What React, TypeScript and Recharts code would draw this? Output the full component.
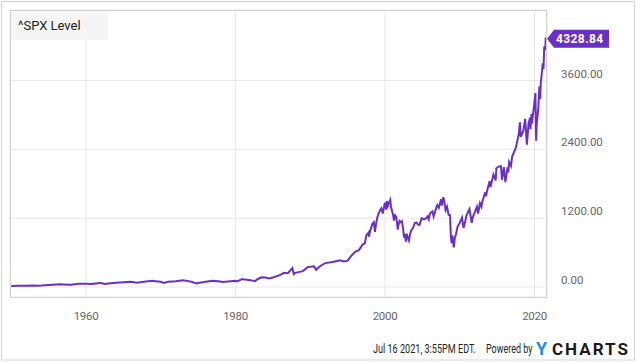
import React from "react";
import { LineChart, Line, XAxis, YAxis, CartesianGrid, ReferenceDot } from "recharts";

const years: number[] = [
  1950.0, 1951.0, 1952.0, 1953.0, 1953.7, 1954.0, 1955.0, 1956.0, 1956.6, 1957.0, 1957.8, 1958.0,
  1959.0, 1960.0, 1960.8, 1961.0, 1961.9, 1962.0, 1962.5, 1963.0, 1964.0, 1965.0, 1966.0, 1966.8,
  1967.0, 1968.0, 1968.9, 1969.0, 1970.0, 1970.4, 1971.0, 1972.0, 1973.0, 1973.9, 1974.0, 1974.8,
  1975.0, 1976.0, 1977.0, 1978.0, 1978.2, 1979.0, 1980.0, 1980.2, 1980.9, 1981.0, 1982.0, 1982.6,
  1983.0, 1983.5, 1984.0, 1984.5, 1985.0, 1986.0, 1986.5, 1987.0, 1987.6, 1987.8, 1988.0, 1989.0,
  1989.7, 1990.0, 1990.5, 1990.8, 1991.0, 1991.5, 1992.0, 1993.0, 1994.0, 1994.5, 1995.0, 1995.5,
  1996.0, 1996.5, 1996.6, 1997.0, 1997.3, 1997.5, 1997.8, 1997.85, 1998.0, 1998.3, 1998.5, 1998.65,
  1998.8, 1999.0, 1999.3, 1999.5, 1999.7, 1999.9, 2000.0, 2000.15, 2000.25, 2000.4, 2000.5, 2000.7,
  2000.8, 2000.95, 2001.1, 2001.2, 2001.35, 2001.5, 2001.6, 2001.7, 2001.8, 2001.95, 2002.1, 2002.25,
  2002.4, 2002.55, 2002.65, 2002.8, 2002.9, 2003.0, 2003.2, 2003.35, 2003.5, 2003.7, 2004.0, 2004.2,
  2004.4, 2004.6, 2004.9, 2005.2, 2005.5, 2005.7, 2005.85, 2006.0, 2006.35, 2006.5, 2006.9, 2007.0,
  2007.2, 2007.5, 2007.6, 2007.8, 2007.95, 2008.1, 2008.3, 2008.5, 2008.7, 2008.8, 2008.9, 2009.0,
  2009.15, 2009.2, 2009.35, 2009.5, 2009.7, 2010.0, 2010.3, 2010.5, 2010.65, 2010.9, 2011.3, 2011.6,
  2011.75, 2012.0, 2012.3, 2012.45, 2012.7, 2012.9, 2013.0, 2013.4, 2013.5, 2013.7, 2014.0, 2014.1,
  2014.5, 2014.8, 2014.9, 2015.2, 2015.5, 2015.65, 2015.9, 2016.1, 2016.4, 2016.5, 2016.6, 2016.85,
  2017.0, 2017.5, 2017.9, 2018.05, 2018.15, 2018.5, 2018.75, 2018.98, 2019.2, 2019.4, 2019.45, 2019.6,
  2019.65, 2020.0, 2020.12, 2020.22, 2020.3, 2020.5, 2020.65, 2020.75, 2020.85, 2021.0, 2021.1, 2021.2,
  2021.3, 2021.4, 2021.45, 2021.5, 2021.54,
];

const levels: number[] = [
  17, 21.7, 24, 26, 23, 25, 36, 44, 48, 46, 40, 41,
  55, 59, 53, 58, 72, 70, 54, 63, 75, 84, 92, 74,
  80, 96, 108, 103, 92, 70, 92, 102, 118, 95, 97, 63,
  70, 90, 107, 95, 87, 96, 108, 98, 140, 136, 120, 102,
  140, 168, 165, 151, 167, 211, 250, 242, 330, 225, 247, 277,
  350, 353, 360, 300, 330, 380, 417, 435, 466, 445, 459, 545,
  615, 640, 660, 740, 760, 900, 950, 880, 970, 1100, 1130, 960,
  1100, 1229, 1330, 1370, 1280, 1420, 1469, 1350, 1499, 1420, 1460, 1520,
  1400, 1320, 1240, 1160, 1250, 1224, 1130, 1000, 1080, 1150, 1130, 1147,
  1040, 860, 920, 790, 930, 880, 810, 920, 985, 1020, 1120, 1125,
  1090, 1080, 1200, 1180, 1200, 1230, 1180, 1280, 1320, 1230, 1400, 1430,
  1380, 1530, 1420, 1565, 1480, 1340, 1400, 1260, 1250, 900, 770, 900,
  735, 690, 870, 920, 1050, 1120, 1210, 1030, 1100, 1250, 1360, 1120,
  1220, 1300, 1400, 1280, 1460, 1400, 1480, 1650, 1580, 1700, 1848, 1740,
  1960, 1860, 2070, 2100, 2110, 1870, 2090, 1830, 2090, 2000, 2180, 2110,
  2270, 2430, 2670, 2870, 2620, 2720, 2930, 2480, 2850, 2950, 2750, 3020,
  2850, 3230, 3380, 2550, 2850, 3100, 3500, 3280, 3580, 3750, 3900, 3800,
  4180, 4200, 4130, 4350, 4328.84,
];

const xTicks = [1960, 1980, 2000, 2020];
const yTicks = [0, 1200, 2400, 3600];
const seriesName = "^SPX Level";
const lastLabel = "4328.84";
const footerDate = "Jul 16 2021, 3:55PM EDT.";
const footerPowered = "Powered by";

const data = years.map((y, i) => ({ year: y, level: levels[i] }));
const last = data[data.length - 1];

const PURPLE = "#6a2fc6";

const YTick = (props: any) => {
  const { x, y, payload } = props;
  return (
    <text x={x + 6} y={y - 3} fill="#666" fontSize={11.5} fontFamily="Roboto" textAnchor="start">
      {Number(payload.value).toFixed(2)}
    </text>
  );
};

const XTick = (props: any) => {
  const { x, y, payload } = props;
  return (
    <text x={x} y={y + 15} fill="#666" fontSize={11.5} fontFamily="Roboto" textAnchor="middle" letterSpacing={-0.3}>
      {payload.value}
    </text>
  );
};

const EndLabel = (props: any) => {
  const { cx, cy } = props;
  const tx = cx + 1;
  return (
    <g>
      <polygon
        points={`${tx},${cy} ${tx + 7},${cy - 9} ${tx + 62},${cy - 9} ${tx + 62},${cy + 9} ${tx + 7},${cy + 9}`}
        fill={PURPLE}
      />
      <text x={tx + 9} y={cy + 4.5} fill="#fff" fontSize={12} fontWeight={700} fontFamily="Roboto" letterSpacing={0.4}>
        {lastLabel}
      </text>
    </g>
  );
};

export default function App() {
  return (
    <div style={{ position: "absolute", left: 0, top: 0, width: 640, height: 362, background: "#fff" }}>
      <LineChart width={640} height={362} data={data} margin={{ top: 10, right: 0, left: 10, bottom: 35 }}>
        <CartesianGrid stroke="#e8e8e8" strokeWidth={1} />
        <XAxis
          dataKey="year"
          type="number"
          domain={[1949.83, 2021.67]}
          ticks={xTicks}
          tick={<XTick />}
          tickLine={false}
          axisLine={false}
          height={30}
          allowDataOverflow
        />
        <YAxis
          orientation="right"
          type="number"
          domain={[-174, 4829]}
          ticks={yTicks}
          tick={<YTick />}
          tickLine={false}
          axisLine={false}
          width={93}
          allowDataOverflow
        />
        <Line
          type="linear"
          dataKey="level"
          stroke={PURPLE}
          strokeWidth={2}
          dot={false}
          isAnimationActive={false}
        />
        <ReferenceDot x={last.year} y={last.level} r={0} ifOverflow="visible" shape={<EndLabel />} />
      </LineChart>
      <svg width={640} height={362} style={{ position: "absolute", left: 0, top: 0, pointerEvents: "none" }}>
        <rect x={1.5} y={1.5} width={633} height={358.5} fill="none" stroke="#d4d4d4" strokeWidth={1} />
        <rect x={10.5} y={10.5} width={536} height={287} fill="none" stroke="#d0d0d0" strokeWidth={1} />
        <rect x={11} y={11} width={97} height={29} fill="#f3f3f3" opacity={0.85} />
        <text x={18} y={29.5} fill="#222" fontSize={13} fontFamily="Roboto">
          {seriesName}
        </text>
        <g transform="translate(373,352.5) scale(0.7,1)">
          <text x={0} y={0} fill="#222" fontSize={13} fontFamily="Roboto">
            {footerDate}
          </text>
        </g>
        <g transform="translate(486,352.5) scale(0.69,1)">
          <text x={0} y={0} fill="#222" fontSize={13} fontFamily="Roboto">
            {footerPowered}
          </text>
        </g>
        <text x={536} y={355} fill="#1e8fd8" fontSize={18} fontWeight={700} fontFamily="Roboto">
          Y
        </text>
        <text x={552} y={355} fill="#1b1b1b" fontSize={17} fontWeight={700} fontFamily="Roboto" letterSpacing={2}>
          CHARTS
        </text>
      </svg>
    </div>
  );
}
